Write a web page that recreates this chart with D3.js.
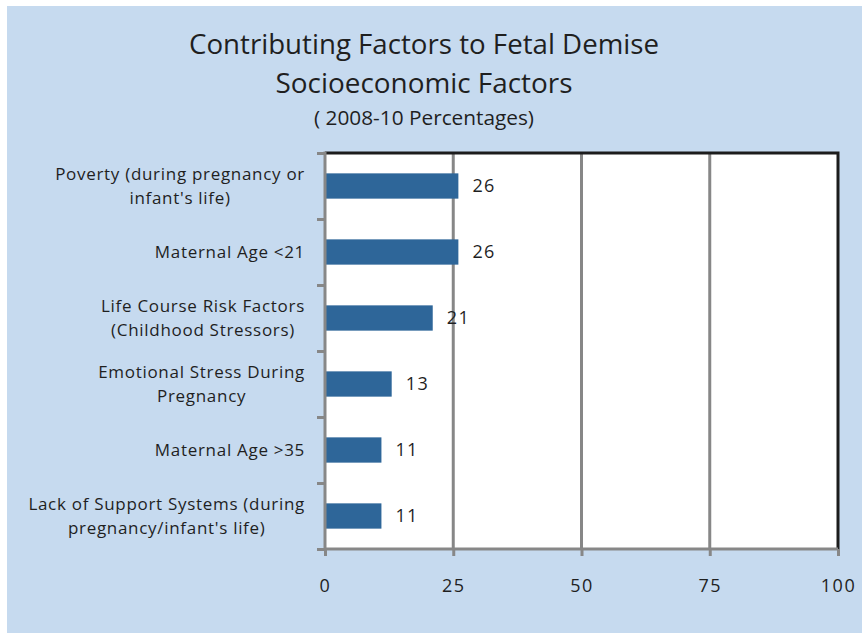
<!DOCTYPE html>
<html>
<head>
<meta charset="utf-8">
<script src="https://cdn.jsdelivr.net/npm/d3@7"></script>
<style>
  body { margin: 0; background: #fff; }
  svg text { font-family: "Open Sans", "Noto Sans", sans-serif; fill: #1f1f1f; }
</style>
</head>
<body>
<div class="chart"></div>
<script>
// data
const categories = [
    ["Poverty (during pregnancy or", "infant's life)"],
    ["Maternal Age <21"],
    ["Life Course Risk Factors", "(Childhood Stressors)"],
    ["Emotional Stress During", "Pregnancy"],
    ["Maternal Age >35"],
    ["Lack of Support Systems (during", "pregnancy/infant's life)"]
];
const values = [26, 26, 21, 13, 11, 11];
const xTicks = [0, 25, 50, 75, 100];
const titleLines = [
    "Contributing Factors to Fetal Demise",
    "Socioeconomic Factors",
    "( 2008-10 Percentages)"
];

const svg_width = 862;
const svg_height = 633;
const margin = { top: 153, right: 24, bottom: 84, left: 325 };
const width = svg_width - margin.left - margin.right;
const height = svg_height - margin.top - margin.bottom;

const svg = d3.select('.chart').append('svg')
    .attr('width', svg_width).attr('height', svg_height);

// light blue chart area
svg.append('rect')
    .attr('x', 7).attr('y', 6)
    .attr('width', svg_width - 7).attr('height', svg_height - 6)
    .attr('fill', '#c6daef');

// titles
const titleStyle = [
    { y: 54, size: 27, len: 470 },
    { y: 93, size: 27, len: 297 },
    { y: 125, size: 20, len: 220 }
];
svg.append('g').attr('class', 'titles')
    .selectAll('text').data(titleLines).join('text')
    .attr('x', 424)
    .attr('y', (d, i) => titleStyle[i].y)
    .attr('text-anchor', 'middle')
    .style('font-size', (d, i) => titleStyle[i].size + 'px')
    .attr('textLength', (d, i) => titleStyle[i].len)
    .attr('lengthAdjust', 'spacingAndGlyphs')
    .text(d => d);

const g = svg.append('g')
    .attr('transform', `translate(${margin.left},${margin.top})`);

// scales
const xScale = d3.scaleLinear([0, 100], [0, width]);
const yScale = d3.scaleBand()
    .domain(d3.range(categories.length))
    .range([0, height])
    .paddingInner(0.617).paddingOuter(0.3085);
// boundaries between categories, for the tick marks
const yEdge = d3.scaleLinear([0, categories.length], [0, height]);

// plot area
g.append('rect')
    .attr('width', width).attr('height', height)
    .attr('fill', '#fff');

// gridlines
g.append('g').attr('class', 'grid')
    .selectAll('line').data(xTicks.slice(1, -1)).join('line')
    .attr('x1', d => xScale(d)).attr('x2', d => xScale(d))
    .attr('y1', 0).attr('y2', height)
    .attr('stroke', '#878787').attr('stroke-width', 3);

// top and right border
g.append('path')
    .attr('d', `M0,0H${width}V${height}`)
    .attr('fill', 'none')
    .attr('stroke', '#1c1c1c').attr('stroke-width', 3);

// bars
g.append('g').attr('class', 'bars')
    .selectAll('rect').data(values).join('rect')
    .attr('x', 0)
    .attr('y', (d, i) => yScale(i))
    .attr('width', d => xScale(d))
    .attr('height', yScale.bandwidth())
    .attr('fill', '#2e6699');

// value labels
g.append('g').attr('class', 'values')
    .selectAll('text').data(values).join('text')
    .attr('x', d => xScale(d) + 14)
    .attr('y', (d, i) => yScale(i) + yScale.bandwidth() / 2)
    .attr('dy', '0.36em')
    .style('font-size', '18px')
    .style('letter-spacing', '1.4px')
    .text(d => d);

// x axis
const xAxis = d3.axisBottom(xScale)
    .tickValues(xTicks)
    .tickSize(7)
    .tickPadding(23)
    .tickFormat(d3.format('d'));
const xAxisDraw = g.append('g').attr('class', 'x axis')
    .attr('transform', `translate(0,${height})`)
    .call(xAxis);
xAxisDraw.select('.domain').remove();
xAxisDraw.selectAll('line').attr('stroke', '#878787').attr('stroke-width', 3);
xAxisDraw.selectAll('text')
    .style('font-size', '18px')
    .style('letter-spacing', '1.5px')
    .attr('fill', '#1f1f1f');
xAxisDraw.append('line')
    .attr('x1', 0).attr('x2', width)
    .attr('stroke', '#878787').attr('stroke-width', 3);

// y axis (ticks between categories)
const yAxis = d3.axisLeft(yEdge)
    .tickValues(d3.range(categories.length + 1))
    .tickSize(8)
    .tickFormat('');
const yAxisDraw = g.append('g').attr('class', 'y axis').call(yAxis);
yAxisDraw.select('.domain').remove();
yAxisDraw.selectAll('line').attr('stroke', '#878787').attr('stroke-width', 3);
yAxisDraw.append('line')
    .attr('y1', -1.5).attr('y2', height)
    .attr('stroke', '#878787').attr('stroke-width', 3);

// category labels: centered block, right edge near the axis
const labels = g.append('g').attr('class', 'labels')
    .selectAll('text').data(categories).join('text')
    .style('font-size', '17px')
    .style('letter-spacing', '0.7px')
    .attr('text-anchor', 'middle');
labels.each(function (lines, i) {
    const t = d3.select(this);
    const mid = yScale(i) + yScale.bandwidth() / 2;
    lines.forEach((line, j) => {
        t.append('tspan')
            .attr('y', mid + (j - (lines.length - 1) / 2) * 24)
            .attr('dy', '0.36em')
            .text(line);
    });
    let widest = 0;
    t.selectAll('tspan').each(function () {
        widest = Math.max(widest, this.getComputedTextLength());
    });
    t.selectAll('tspan').attr('x', -20 - widest / 2);
});
</script>
</body>
</html>
